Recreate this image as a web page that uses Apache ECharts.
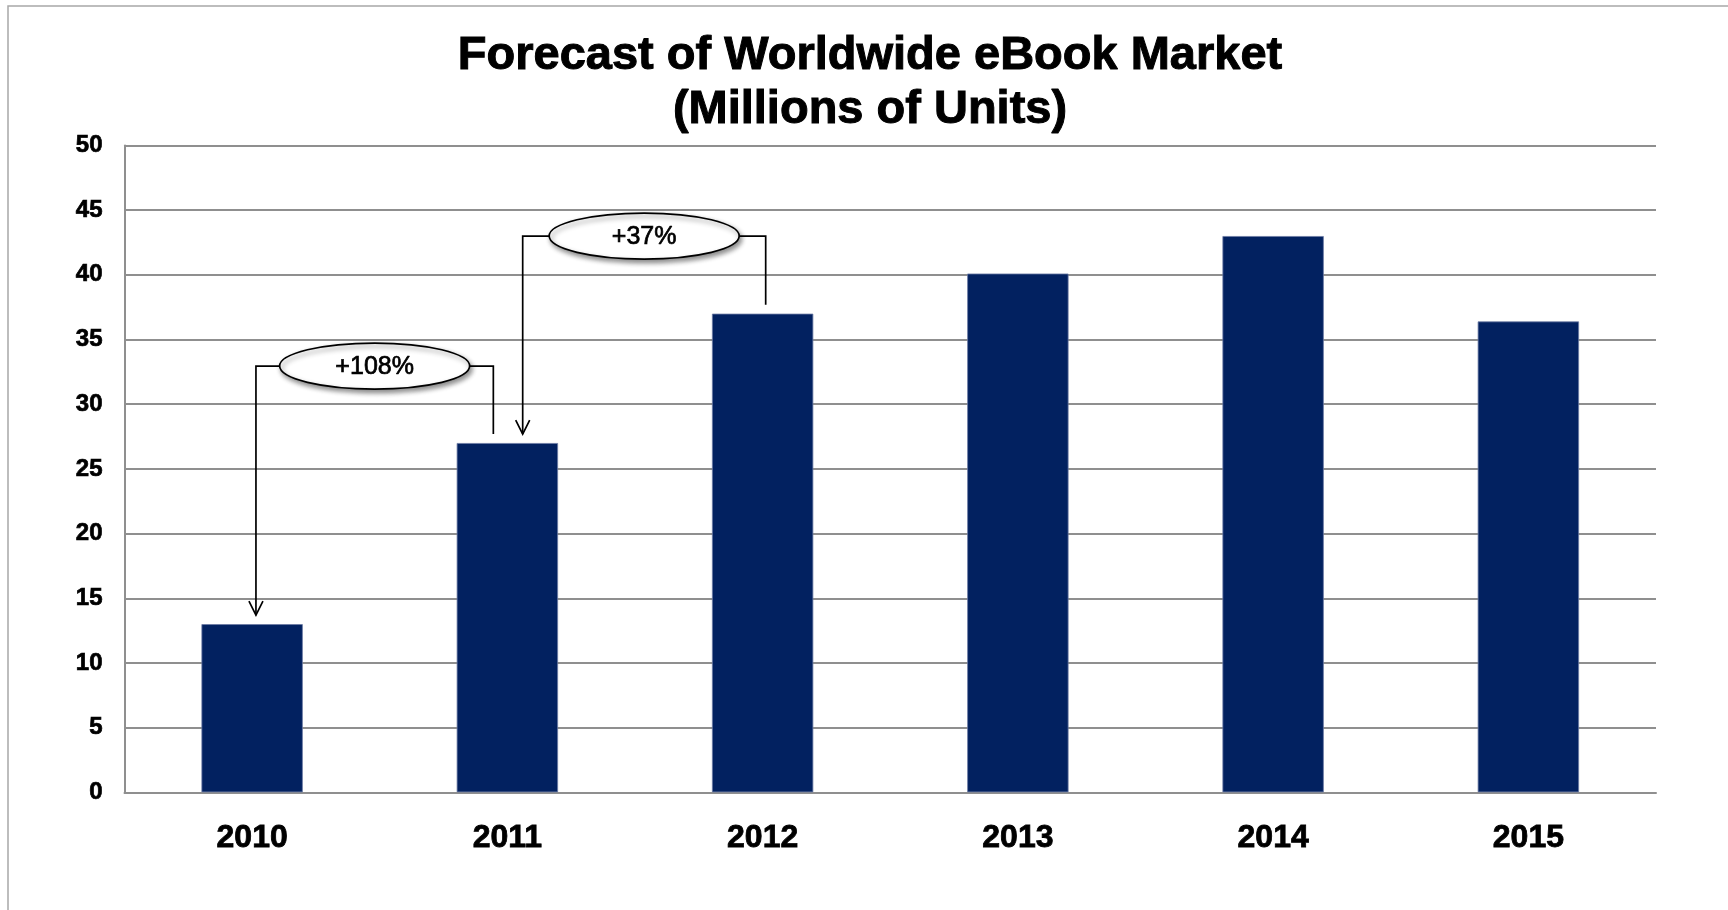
<!DOCTYPE html>
<html>
<head>
<meta charset="utf-8">
<title>Forecast of Worldwide eBook Market</title>
<script src="https://cdn.jsdelivr.net/npm/echarts@6/dist/echarts.min.js"></script>
<style>
  html, body { margin: 0; padding: 0; background: #ffffff; }
  #chart { width: 1728px; height: 910px; }
</style>
</head>
<body>
<div id="chart"></div>
<script>
// Years on the category axis
const years = ['2010', '2011', '2012', '2013', '2014', '2015'];
// eBook units, millions
const units = [13, 27, 37, 40.1, 43, 36.4];
// Y-axis ticks
const yTicks = [0, 5, 10, 15, 20, 25, 30, 35, 40, 45, 50];

// Growth callouts: text, start year index, end year index, height of the bubble (axis units)
const calloutText = ['+108%', '+37%'];
const calloutFrom = [0, 1];
const calloutTo = [1, 2];
const calloutLevel = [32.95, 43.0];

const FONT = '"Liberation Sans", Arial, Helvetica, sans-serif';
const chart = echarts.init(document.getElementById('chart'), null, { renderer: 'canvas' });

// Horizontal nudges of the connector legs, as a fraction of one category band
const legNudge = [[0.015, -0.055], [0.06, 0.012]];

function renderCallout(params, api) {
  const i = params.dataIndex;
  const from = api.value(0);
  const to = api.value(1);
  const level = api.value(2);
  const band = api.size([1, 0])[0];
  const pFrom = api.coord([from, units[from]]);
  const pTo = api.coord([to, units[to]]);
  const y = api.coord([from, level])[1];
  const xFrom = pFrom[0] + legNudge[i][0] * band;
  const xTo = pTo[0] + legNudge[i][1] * band;
  const cx = (xFrom + xTo) / 2;
  const rx = 95, ry = 23, gap = 9;
  const tipY = pFrom[1] - gap;
  const endY = pTo[1] - gap;
  const lineStyle = { stroke: '#000000', lineWidth: 1.7, fill: null };
  return {
    type: 'group',
    children: [
      { type: 'polyline', shape: { points: [[cx - rx, y], [xFrom, y], [xFrom, tipY]] }, style: lineStyle },
      { type: 'polyline', shape: { points: [[xFrom - 7, tipY - 14], [xFrom, tipY], [xFrom + 7, tipY - 14]] }, style: lineStyle },
      { type: 'polyline', shape: { points: [[cx + rx, y], [xTo, y], [xTo, endY]] }, style: lineStyle },
      {
        type: 'ellipse',
        shape: { cx: cx, cy: y, rx: rx, ry: ry },
        style: {
          fill: '#ffffff', stroke: '#000000', lineWidth: 1.7,
          shadowBlur: 5, shadowColor: 'rgba(0,0,0,0.45)', shadowOffsetX: 2, shadowOffsetY: 3
        }
      },
      {
        type: 'text',
        style: {
          x: cx, y: y + 1, text: calloutText[i],
          align: 'center', verticalAlign: 'middle',
          font: 'normal 25px ' + FONT, fill: '#000000',
          stroke: '#000000', lineWidth: 0.7
        }
      }
    ]
  };
}

const calloutData = calloutText.map((t, i) => [calloutFrom[i], calloutTo[i], calloutLevel[i]]);

const option = {
  backgroundColor: '#ffffff',
  animation: false,
  graphic: [
    {
      type: 'rect', z: -10, silent: true,
      shape: { x: 8, y: 6, width: 1740, height: 930 },
      style: { fill: null, stroke: '#a8a8a8', lineWidth: 1.5 }
    },
    {
      type: 'text', z: 10,
      style: {
        x: 870, y: 29,
        text: 'Forecast of Worldwide eBook Market\n(Millions of Units)',
        align: 'center', verticalAlign: 'top',
        font: 'bold 47px ' + FONT, lineHeight: 54, fill: '#000000',
        stroke: '#000000', lineWidth: 1
      }
    }
  ],
  grid: { left: 124.5, right: 72, top: 145.5, bottom: 117.7, containLabel: false },
  xAxis: {
    type: 'category',
    data: years,
    axisLine: { show: true, lineStyle: { color: '#8f8f8f', width: 2 } },
    axisTick: { show: false },
    axisLabel: {
      color: '#000000', fontFamily: FONT, fontWeight: 'bold', fontSize: 32, margin: 30,
      textBorderColor: '#000000', textBorderWidth: 0.8
    },
    splitLine: { show: false }
  },
  yAxis: {
    type: 'value',
    min: yTicks[0],
    max: yTicks[yTicks.length - 1],
    interval: yTicks[1] - yTicks[0],
    axisLine: { show: true, lineStyle: { color: '#8f8f8f', width: 2 } },
    axisTick: { show: false },
    axisLabel: {
      color: '#000000', fontFamily: FONT, fontWeight: 'bold', fontSize: 24, margin: 22,
      textBorderColor: '#000000', textBorderWidth: 0.7
    },
    splitLine: { show: true, lineStyle: { color: '#8f8f8f', width: 2 } }
  },
  series: [
    {
      type: 'bar',
      data: units,
      barWidth: '39.7%',
      itemStyle: { color: '#022160', borderColor: '#6b7aa3', borderWidth: 0.8 },
      z: 2
    },
    {
      type: 'custom',
      data: calloutData,
      encode: { x: 0, y: 2 },
      renderItem: renderCallout,
      clip: false,
      silent: true,
      z: 5
    }
  ]
};

chart.setOption(option);
</script>
</body>
</html>
